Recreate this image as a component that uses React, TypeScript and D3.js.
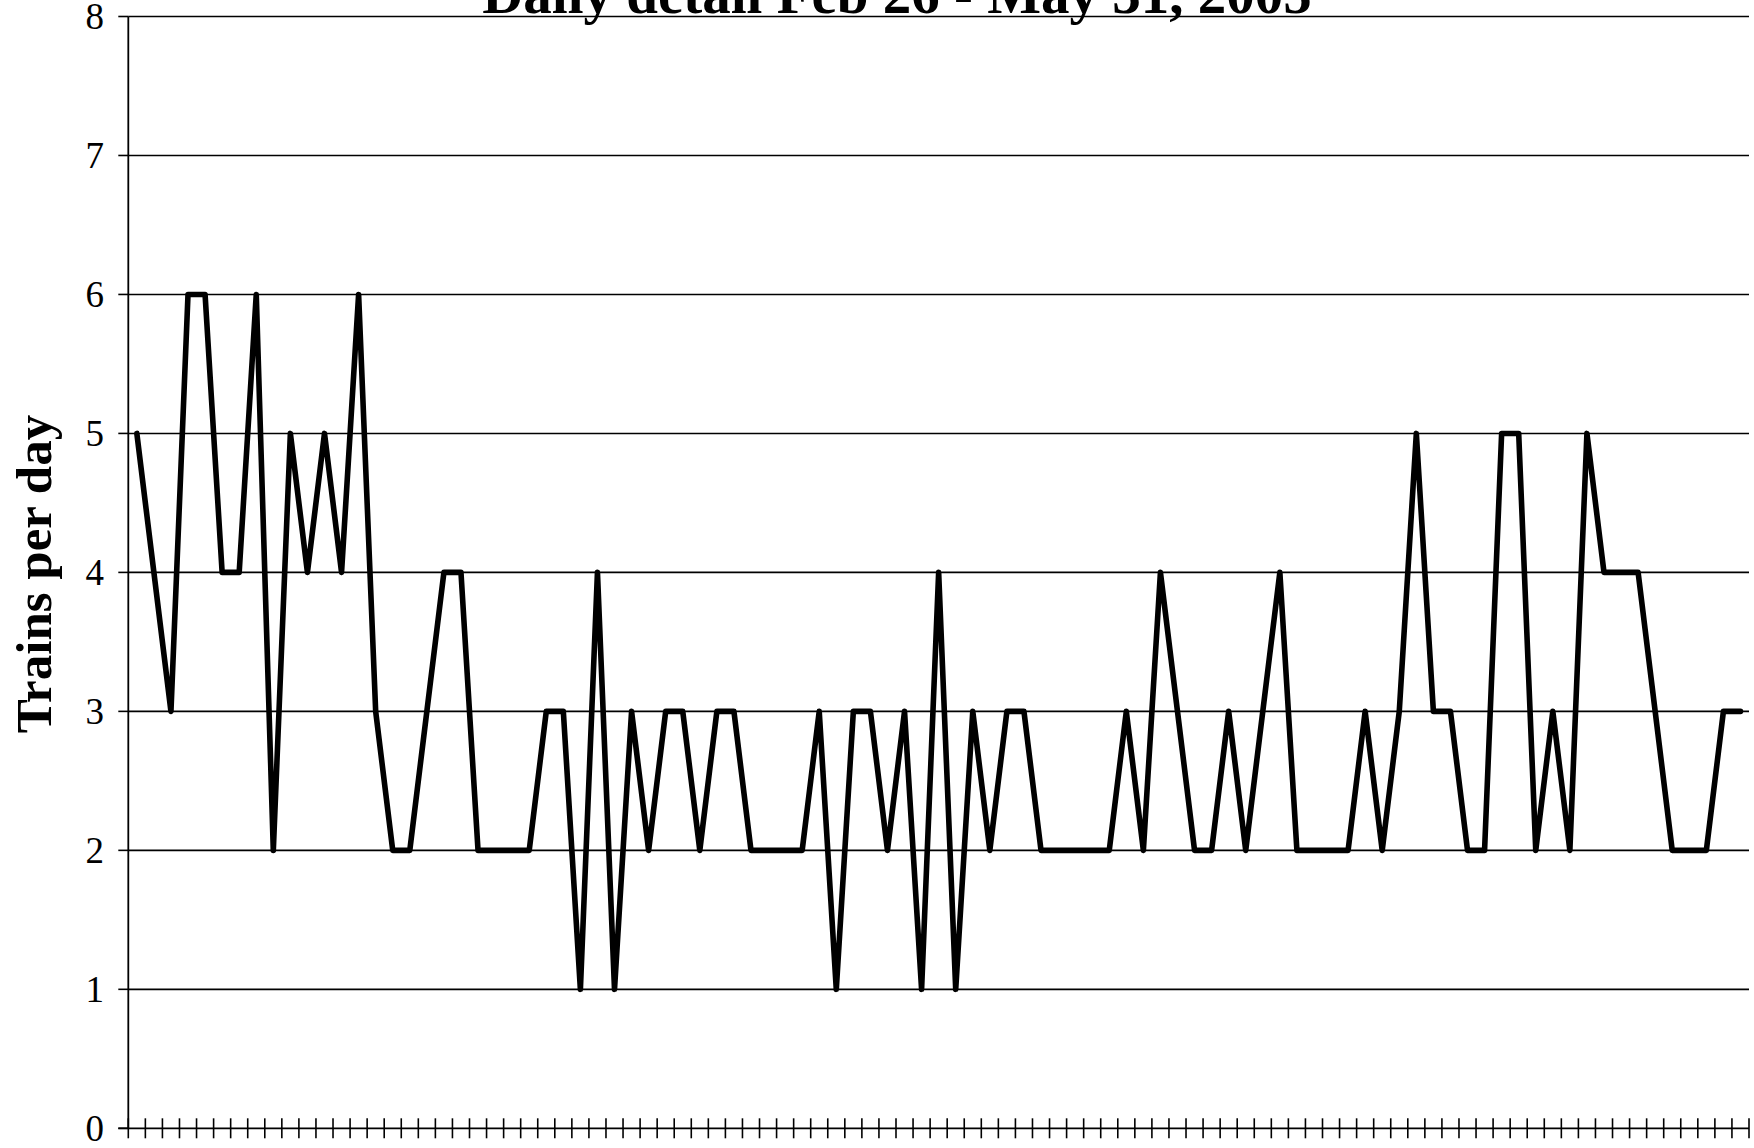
import React from "react";
import * as d3 from "d3";

const title = "Daily detail Feb 26 - May 31, 2005";
const yAxisTitle = "Trains per day";
const yTicks = [0, 1, 2, 3, 4, 5, 6, 7, 8];
// one value per day, Feb 26 .. May 31, 2005
const trainsPerDay = [
  5, 4, 3, 6, 6, 4, 4, 6, 2, 5, 4, 5, 4, 6, 3, 2, 2, 3, 4, 4,
  2, 2, 2, 2, 3, 3, 1, 4, 1, 3, 2, 3, 3, 2, 3, 3, 2, 2, 2, 2,
  3, 1, 3, 3, 2, 3, 1, 4, 1, 3, 2, 3, 3, 2, 2, 2, 2, 2, 3, 2,
  4, 3, 2, 2, 3, 2, 3, 4, 2, 2, 2, 2, 3, 2, 3, 5, 3, 3, 2, 2,
  5, 5, 2, 3, 2, 5, 4, 4, 4, 3, 2, 2, 2, 3, 3,
];
const days = trainsPerDay.map((_, i) => i);

export default function App() {
  const W = 1754;
  const H = 1148;
  const left = 128.3;
  const right = 1749;
  const top = 16.5;
  const bottom = 1128.3;

  const x = d3.scaleBand<number>().domain(days).range([left, right]).padding(0);
  const bw = x.bandwidth();
  const y = d3.scaleLinear().domain([0, 8]).range([bottom, top]);

  const line = d3
    .line<number>()
    .x((_, i) => (x(i) as number) + bw / 2)
    .y((d) => y(d));

  const tickXs = d3.range(days.length + 1).map((k) => left + k * bw);
  const font = "'Liberation Serif', 'Times New Roman', Times, serif";

  return (
    <svg
      width={W}
      height={H}
      style={{ position: "absolute", left: 0, top: 0, background: "#fff" }}
      fontFamily={font}
    >
      <rect x={0} y={0} width={W} height={H} fill="#fff" />
      {yTicks.map((t) => (
        <g key={t}>
          {t > 0 && (
            <line x1={left} x2={right} y1={y(t)} y2={y(t)} stroke="#000" strokeWidth={1.6} />
          )}
          <line x1={left - 10} x2={left} y1={y(t)} y2={y(t)} stroke="#000" strokeWidth={1.6} />
          <text x={104} y={y(t)} dy="0.35em" textAnchor="end" fontSize={37} fill="#000">
            {t}
          </text>
        </g>
      ))}
      {/* axes */}
      <line x1={left} x2={left} y1={top} y2={bottom} stroke="#000" strokeWidth={1.8} />
      <line x1={left - 10} x2={right} y1={bottom} y2={bottom} stroke="#000" strokeWidth={1.8} />
      {tickXs.map((tx, k) => (
        <line key={k} x1={tx} x2={tx} y1={bottom - 10} y2={bottom + 10} stroke="#000" strokeWidth={1.6} />
      ))}
      <path
        d={line(trainsPerDay) || ""}
        fill="none"
        stroke="#000"
        strokeWidth={5.6}
        strokeLinejoin="round"
        strokeLinecap="round"
      />
      <text x={897} y={13} textAnchor="middle" fontSize={57} fontWeight="bold" fill="#000">
        {title}
      </text>
      <text
        transform={`translate(51, 574) rotate(-90)`}
        textAnchor="middle"
        fontSize={51}
        fontWeight="bold"
        fill="#000"
      >
        {yAxisTitle}
      </text>
    </svg>
  );
}
